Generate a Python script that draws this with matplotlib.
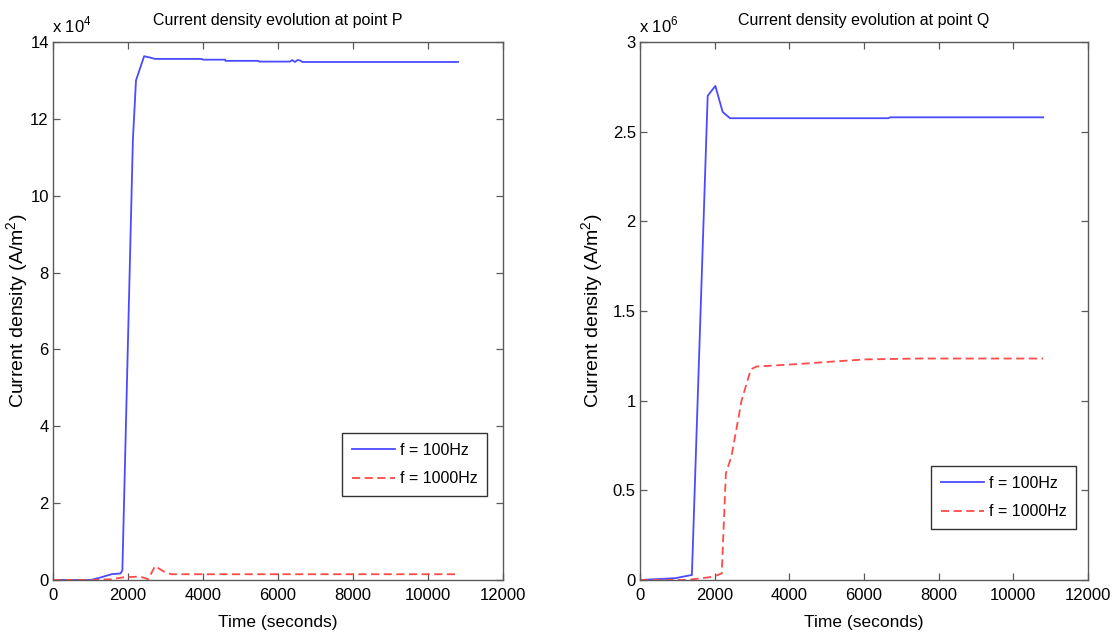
import matplotlib
matplotlib.use("Agg")
import matplotlib.pyplot as plt

# ---- data (point P values in units of 1e4 A/m^2, point Q in units of 1e6 A/m^2)
p_t_100 = [0, 1000, 1250, 1560, 1800, 1850, 2130, 2213, 2430, 2570, 2720, 3960, 4000,
           4590, 4600, 5470, 5500, 6320, 6380, 6450, 6520, 6590, 6650, 10800]
p_j_100 = [0, 0.0, 0.06, 0.15, 0.17, 0.25, 11.45, 13.0, 13.63, 13.6, 13.56, 13.56, 13.54,
           13.54, 13.51, 13.51, 13.49, 13.49, 13.53, 13.48, 13.53, 13.52, 13.48, 13.48]

p_t_1000 = [0, 1000, 1560, 1880, 2320, 2540, 2720, 3010, 3160, 10800]
p_j_1000 = [0, 0.0, 0.02, 0.07, 0.09, 0.02, 0.36, 0.19, 0.15, 0.15]

q_t_100 = [0, 940, 1390, 1813, 2018, 2214, 2411, 6650, 6700, 10800]
q_j_100 = [0, 0.01, 0.028, 2.70, 2.755, 2.61, 2.575, 2.575, 2.58, 2.58]

q_t_1000 = [0, 1250, 1960, 2190, 2300, 2450, 2720, 2970, 3120, 4290, 5090, 6030, 7500, 10800]
q_j_1000 = [0, 0.0, 0.018, 0.037, 0.595, 0.69, 1.0, 1.175, 1.19, 1.205, 1.217, 1.23, 1.235, 1.235]

x_ticks = [0, 2000, 4000, 6000, 8000, 10000, 12000]
p_yticks = [0, 2, 4, 6, 8, 10, 12, 14]
q_yticks = [0, 0.5, 1, 1.5, 2, 2.5, 3]
q_yticklabels = ["0", "0.5", "1", "1.5", "2", "2.5", "3"]
labels = ["f = 100Hz", "f = 1000Hz"]
titles = ["Current density evolution at point P", "Current density evolution at point Q"]
exponents = ["x 10$^{4}$", "x 10$^{6}$"]

plt.rcParams["font.family"] = ["Liberation Sans", "DejaVu Sans"]
plt.rcParams["mathtext.fontset"] = "custom"
plt.rcParams["mathtext.rm"] = "Liberation Sans"

W, H = 1115, 641
fig = plt.figure(figsize=(W / 100, H / 100), dpi=100)

def ax_rect(l, r, t, b):
    return [l / W, 1 - b / H, (r - l) / W, (b - t) / H]

axP = fig.add_axes(ax_rect(53, 503, 42, 580))
axQ = fig.add_axes(ax_rect(640, 1088, 42, 580))

blue = "#4a4aff"
red = "#ff4a4a"
spine_col = "#5a5a5a"

datasets = [
    (axP, p_t_100, p_j_100, p_t_1000, p_j_1000, p_yticks, [str(v) for v in p_yticks], 14,
     (0.964, 0.156), -0.049),
    (axQ, q_t_100, q_j_100, q_t_1000, q_j_1000, q_yticks, q_yticklabels, 3,
     (0.973, 0.095), -0.076),
]

for i, (ax, t1, j1, t2, j2, yt, ytl, ymax, anchor, ylab_x) in enumerate(datasets):
    ax.plot(t1, j1, color=blue, lw=1.3, label=labels[0])
    ax.plot(t2, j2, color=red, lw=1.3, ls=(0, (4.5, 2.5)), label=labels[1])
    ax.set_xlim(0, 12000)
    ax.set_ylim(0, ymax)
    ax.set_xticks(x_ticks)
    ax.set_xticklabels([str(v) for v in x_ticks])
    ax.set_yticks(yt)
    ax.set_yticklabels(ytl)
    ax.tick_params(direction="in", length=5, width=0.9, color=spine_col,
                   top=True, right=True, labelsize=12, pad=3, labelcolor="black")
    ax.tick_params(axis="x", pad=6)
    for s in ax.spines.values():
        s.set_color(spine_col)
        s.set_linewidth(1.0)
    ax.set_title(titles[i], fontsize=11.5, pad=12)
    ax.set_xlabel("Time (seconds)", fontsize=12.5)
    ax.xaxis.set_label_coords(0.5, -0.065)
    ax.set_ylabel("Current density (A/m$^2$)", fontsize=14)
    ax.yaxis.set_label_coords(ylab_x, 0.5)
    ax.text(-0.002, 1.012, exponents[i], transform=ax.transAxes, fontsize=12,
            ha="left", va="bottom")
    leg = ax.legend(loc="lower right", bbox_to_anchor=anchor, borderaxespad=0,
                    fancybox=False, edgecolor="#333333", framealpha=1,
                    fontsize=11.5, handlelength=2.7, handletextpad=0.3,
                    borderpad=0.6, labelspacing=0.85)
    leg.get_frame().set_linewidth(1.0)

fig.savefig("out.png", dpi=100)
